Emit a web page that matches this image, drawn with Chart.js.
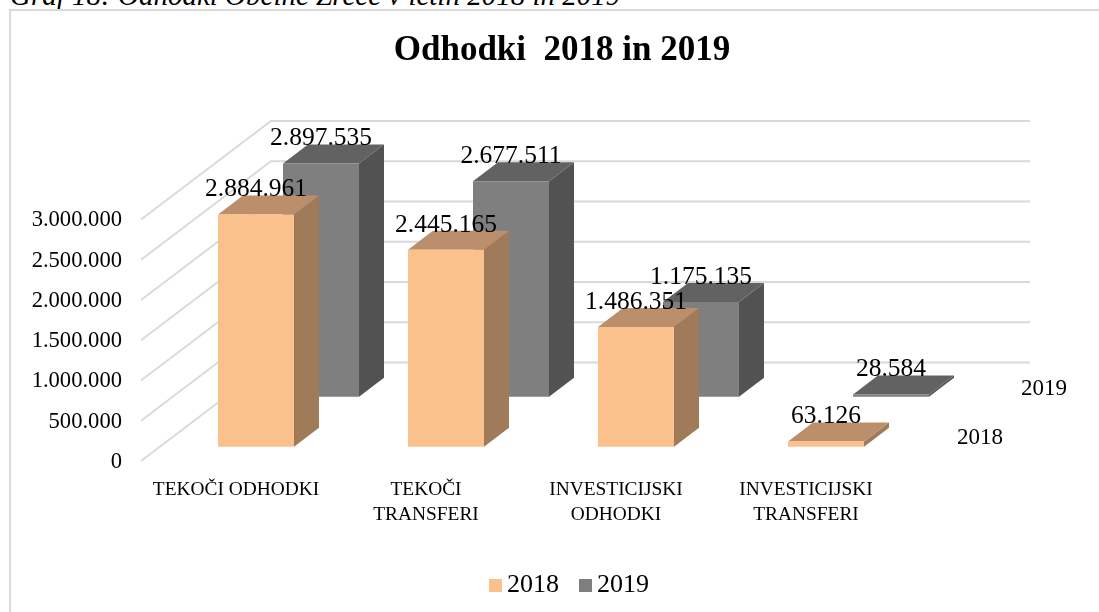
<!DOCTYPE html>
<html><head><meta charset="utf-8">
<style>
html,body{margin:0;padding:0;background:#fff;overflow:hidden;width:1099px;height:612px}
#cap{position:absolute;left:10px;top:-21px;font:italic 29px "Liberation Serif",serif;white-space:nowrap;color:#000}
#frame{position:absolute;left:9px;top:9px;width:1200px;height:700px;border:2px solid #d9d9d9;box-sizing:border-box}
canvas{position:absolute;left:0;top:0}
</style>
<script src="https://cdn.jsdelivr.net/npm/chart.js@4/dist/chart.umd.js"></script>
</head><body>
<div id="cap">Graf 18: Odhodki Občine Zreče v letih 2018 in 2019</div>
<div id="frame"></div>
<canvas id="c" width="1099" height="612"></canvas>
<script>
const categories = ["TEKOČI ODHODKI", ["TEKOČI", "TRANSFERI"], ["INVESTICIJSKI", "ODHODKI"], ["INVESTICIJSKI", "TRANSFERI"]];
const series2018 = [2884961, 2445165, 1486351, 63126];
const series2019 = [2897535, 2677511, 1175135, 28584];
const seriesNames = ["2018", "2019"];
const chartTitle = "Odhodki  2018 in 2019";

const FONT = '"Liberation Serif", serif';
const fmt = v => String(Math.round(v)).replace(/\B(?=(\d{3})+$)/g, ".");
const looks = [
  {front:"#fbc18d", side:"#9f7b59", top:"#bb8f6b", dx:20, dy:-14.3, nameDx:154, nameDy:-9},
  {front:"#7f7f7f", side:"#525252", top:"#626262", dx:85, dy:-64.3, nameDx:153, nameDy:-8}
];
const DEPTH = {dx:25, dy:-19};
const WALL = {dx:130, dy:-98.5, right:1030};
const LEGEND_SHIFT = 9, BOTTOM_PAD = 4;

function swatch(color){
  const c = document.createElement("canvas");
  c.width = 17; c.height = 13;
  const g = c.getContext("2d");
  g.fillStyle = color; g.fillRect(4,0,13,13);
  return c;
}
const swatches = looks.map(l=>swatch(l.front));

const pseudo3d = {
  id:"pseudo3d",
  afterLayout(chart){
    chart.legend.left += LEGEND_SHIFT; chart.legend.right += LEGEND_SHIFT;
  },
  beforeDatasetsDraw(chart){
    const {ctx, scales:{y}} = chart;
    ctx.save();
    ctx.strokeStyle = "#d9d9d9"; ctx.lineWidth = 1.8;
    y.ticks.forEach(t=>{
      const py = y.getPixelForValue(t.value), l = chart.chartArea.left;
      ctx.beginPath(); ctx.moveTo(l,py); ctx.lineTo(l+WALL.dx,py+WALL.dy); ctx.lineTo(WALL.right,py+WALL.dy); ctx.stroke();
    });
    ctx.restore();
  },
  beforeDatasetDraw(chart,args){
    const {ctx} = chart, lk = looks[args.index];
    ctx.save();
    ctx.translate(lk.dx,lk.dy);
    args.meta.data.forEach(b=>{
      const p = b.getProps(["x","y","base","width"],true);
      const L=p.x-p.width/2, R=p.x+p.width/2;
      ctx.fillStyle = lk.side; ctx.beginPath();
      ctx.moveTo(R,p.y); ctx.lineTo(R+DEPTH.dx,p.y+DEPTH.dy); ctx.lineTo(R+DEPTH.dx,p.base+DEPTH.dy); ctx.lineTo(R,p.base); ctx.closePath(); ctx.fill();
      ctx.fillStyle = lk.top; ctx.beginPath();
      ctx.moveTo(L,p.y); ctx.lineTo(L+DEPTH.dx,p.y+DEPTH.dy); ctx.lineTo(R+DEPTH.dx,p.y+DEPTH.dy); ctx.lineTo(R,p.y); ctx.closePath(); ctx.fill();
    });
  },
  afterDatasetDraw(chart){ chart.ctx.restore(); },
  afterDatasetsDraw(chart){
    const {ctx} = chart;
    ctx.save();
    ctx.fillStyle = "#000"; ctx.textAlign = "center"; ctx.textBaseline = "middle";
    chart.data.datasets.forEach((ds,i)=>{
      const lk = looks[i], bars = chart.getDatasetMeta(i).data;
      ctx.font = "25.5px "+FONT;
      bars.forEach((b,j)=>{
        const p = b.getProps(["x","y"],true);
        ctx.fillText(fmt(ds.data[j]), p.x+lk.dx, p.y+lk.dy-25);
      });
      const last = bars[bars.length-1].getProps(["x","base"],true);
      ctx.font = "23px "+FONT;
      ctx.fillText(ds.label, last.x+lk.dx+lk.nameDx, last.base+lk.dy+lk.nameDy);
    });
    ctx.restore();
  }
};

new Chart(document.getElementById("c"),{
  type:"bar",
  data:{labels:categories,datasets:[
    {label:seriesNames[0],data:series2018,backgroundColor:looks[0].front,grouped:false,clip:false},
    {label:seriesNames[1],data:series2019,backgroundColor:looks[1].front,grouped:false,clip:false}
  ]},
  plugins:[pseudo3d],
  options:{
    responsive:false,animation:false,
    layout:{padding:{left:25,right:0,top:0,bottom:BOTTOM_PAD}},
    datasets:{bar:{categoryPercentage:1,barPercentage:0.4}},
    plugins:{
      tooltip:{enabled:false},
      title:{display:true,text:chartTitle,color:"#000",font:{family:FONT,size:35,weight:"bold",lineHeight:1.2},padding:{top:30,bottom:147.5}},
      legend:{position:"bottom",labels:{color:"#000",font:{family:FONT,size:26},usePointStyle:true,pointStyleWidth:1,boxHeight:13,padding:24,
        generateLabels(chart){
          return Chart.defaults.plugins.legend.labels.generateLabels(chart).map((it,i)=>({...it,pointStyle:swatches[i]}));
        }}}
    },
    scales:{
      x:{grid:{display:false},border:{display:false},
         ticks:{color:"#000",font:{family:FONT,size:19.4,lineHeight:1.29},padding:8,maxRotation:0,minRotation:0,autoSkip:false},
         afterFit(s){ s.height = 151-BOTTOM_PAD-(s.chart.legend?s.chart.legend.height:80); }},
      y:{min:0,max:3000000,grid:{display:false},border:{display:false},
         ticks:{stepSize:500000,color:"#000",font:{family:FONT,size:22.6},padding:11,labelOffset:1,callback:v=>fmt(v)},
         afterFit(s){ s.width = 116; }},
      pad:{position:"right",display:true,grid:{display:false},border:{display:false},ticks:{display:false},afterFit(s){ s.width = 198; }}
    }
  }
});
</script>
</body></html>
